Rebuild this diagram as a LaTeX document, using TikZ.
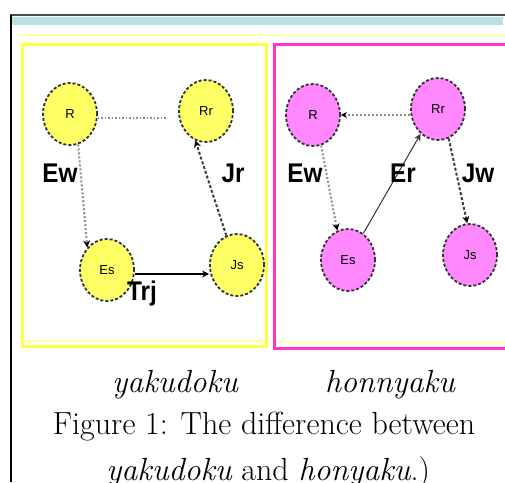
\documentclass[tikz,border=0pt]{standalone}
\usepackage{fontspec}
\newfontfamily\lab{Liberation Sans}
\usetikzlibrary{shapes.geometric,arrows.meta}
\definecolor{ybox}{HTML}{FFFF44}
\definecolor{mbox}{HTML}{FF33CC}
\definecolor{yfill}{HTML}{FFFF66}
\definecolor{mfill}{HTML}{FF88FF}
\definecolor{band}{HTML}{BBE0E3}
\definecolor{pale}{HTML}{FFFFAA}
\tikzset{
  st/.style={ellipse, draw=black!80, line width=1.8pt, densely dashed, minimum width=54pt, minimum height=62pt, inner sep=0pt, font=\lab\fontsize{13}{13}\selectfont},
  ynode/.style={st, fill=yfill},
  mnode/.style={st, fill=mfill},
  elab/.style={font=\lab\bfseries\fontsize{27}{27}\selectfont, inner sep=0pt, xscale=0.9},
  dotarrow/.style={draw=black!45, line width=2pt, dotted, -{Stealth[length=7pt,width=7pt,black]}},
  darkarrow/.style={draw=black!75, line width=2pt, densely dashed, -{Stealth[length=7pt,width=7pt,black]}},
  solidarrow/.style={draw=black, line width=1.4pt, -{Stealth[length=7pt,width=7pt]}},
  thinarrow/.style={draw=black!80, line width=1pt, -{Stealth[length=7pt,width=7pt]}},
  captext/.style={font=\fontsize{32}{32}\selectfont, inner sep=0pt, anchor=base}
}
\begin{document}
\begin{tikzpicture}[x=1pt,y=-1pt]
\useasboundingbox (0,0) rectangle (505,482);
% frame
\fill[band] (12,17) rectangle (503,25);
\draw[black!70, line width=1.5pt] (10,15) -- (505,15);
\draw[black, line width=1.5pt] (11,15) -- (11,482);
\draw[pale, line width=2pt] (18,35) -- (505,35);
% boxes
\draw[ybox, line width=3pt] (22,44) rectangle (266,346);
\draw[pale, line width=1.5pt] (22,341) -- (266,341);
\draw[mbox, line width=3pt] (274,44) rectangle (512,348);
\draw[pale, line width=1.5pt] (276,342) -- (505,342);
% left nodes
\node[ynode] (lR) at (70,114) {R};
\node[ynode] (lRr) at (206,111) {Rr};
\node[ynode] (lEs) at (107,270) {Es};
\node[ynode] (lJs) at (237,265) {Js};
% right nodes
\node[mnode] (rR) at (313,115) {R};
\node[mnode] (rRr) at (438,109) {Rr};
\node[mnode] (rEs) at (348,260) {Es};
\node[mnode] (rJs) at (470,255) {Js};
% left edges
\coordinate (lend) at (167,118);
\draw[draw=black!45, line width=1.5pt, dotted] (lR.east |- lend) -- (lend);
\draw[dotarrow] (lR.-75) -- (lEs.north west);
\draw[solidarrow] (lEs.east |- 0,274) -- (lJs.west |- 0,274);
\draw[darkarrow] (lJs.110) -- (lRr.-110);
% right edges
\draw[draw=black!45, line width=2pt, dotted, -{Stealth[length=6pt,width=6pt,black]}] (rRr.west |- 0,115) -- (rR.east |- 0,115);
\draw[dotarrow] (rR.-75) -- (rEs.110);
\draw[thinarrow] (rEs.60) -- (rRr.-125);
\draw[darkarrow] (rRr.-70) -- (rJs.95);
% labels
\node[elab] (lEw) at (60,173) {Ew};
\node[elab] (lJr) at (233,173) {Jr};
\node[elab] (lTrj) at (142,294) {Trj};
\node[elab] (rEw) at (305,173) {Ew};
\node[elab] (rEr) at (403,173) {Er};
\node[elab] (rJw) at (478,173) {Jw};
% caption
\node[captext] (t1) at (175,392) {\itshape yakudoku};
\node[captext] (t2) at (390,392) {\itshape honnyaku};
\node[captext] (t3) at (264,434) {Figure 1: The difference between};
\node[captext] (t4) at (268,480) {\itshape yakudoku\upshape\ and \itshape honyaku\upshape.)};
\end{tikzpicture}
\end{document}
